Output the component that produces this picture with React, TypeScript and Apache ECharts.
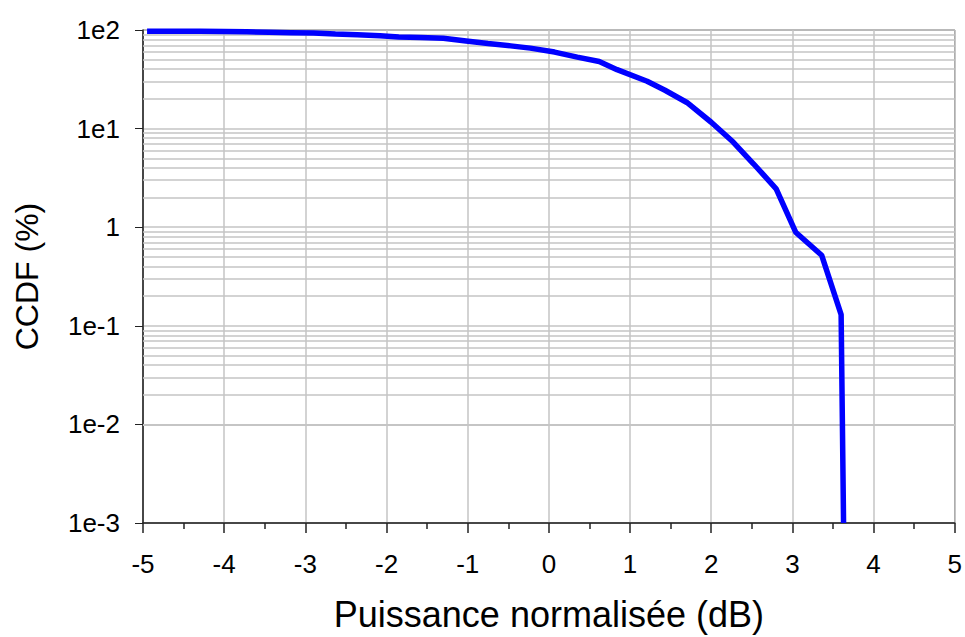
import React, { useEffect, useRef } from "react";
import * as echarts from "echarts";

const powerDb = [
  -4.95, -4.6, -4.3, -4.0, -3.72, -3.45, -3.18, -2.9, -2.63, -2.36, -2.08, -1.85,
  -1.58, -1.3, -1.02, -0.75, -0.47, -0.23, 0.07, 0.35, 0.62, 0.84, 1.21, 1.43,
  1.7, 2.0, 2.27, 2.52, 2.8, 3.04, 3.36, 3.6, 3.63,
];
const ccdfPct = [
  97, 97, 97, 96.5, 96, 95, 94, 93, 91, 89.5, 87.5, 85,
  84, 82.5, 77.5, 73, 69, 65.5, 59.7, 53.1, 48, 39.6, 30.2, 24.5,
  18.4, 11.6, 7.3, 4.4, 2.45, 0.89, 0.52, 0.13, 0.001,
];
const yTickLabels: Record<string, string> = {
  "100": "1e2",
  "10": "1e1",
  "1": "1",
  "0.1": "1e-1",
  "0.01": "1e-2",
  "0.001": "1e-3",
};
const decades = [0.001, 0.01, 0.1, 1, 10];
const minorMultipliers = [2, 3, 4, 5, 6, 7, 8, 9];

export default function App() {
  const ref = useRef<HTMLDivElement>(null);
  useEffect(() => {
    if (!ref.current) return;
    const chart = echarts.init(ref.current, null, { renderer: "svg" });
    const minorLines: any[] = [];
    decades.forEach((d) =>
      minorMultipliers.forEach((m) => minorLines.push({ yAxis: +(d * m).toPrecision(3) }))
    );
    const font = "'Liberation Sans', Arial, sans-serif";
    chart.setOption({
      animation: false,
      backgroundColor: "#ffffff",
      grid: {
        left: 143,
        top: 30,
        width: 817,
        height: 497,
        show: true,
        borderColor: "#333333",
        borderWidth: 1,
        backgroundColor: "transparent",
      },
      xAxis: {
        type: "value",
        min: -5,
        max: 5,
        interval: 1,
        name: "Puissance normalisée (dB)",
        nameLocation: "middle",
        nameGap: 73,
        nameTextStyle: { fontSize: 36, color: "#000", fontFamily: font },
        axisLine: { show: true, onZero: false, lineStyle: { color: "#222", width: 1.5 } },
        axisTick: { show: true, inside: false, length: 10, lineStyle: { color: "#222", width: 1.5 } },
        minorTick: { show: true, splitNumber: 2, length: 6, lineStyle: { color: "#222", width: 1.5 } },
        axisLabel: { fontSize: 26, color: "#000", margin: 28, fontFamily: font },
        splitLine: { show: true, lineStyle: { color: "#c4c4c4", width: 1.5 } },
      },
      yAxis: {
        type: "log",
        logBase: 10,
        min: 0.001,
        max: 100,
        name: "CCDF (%)",
        nameLocation: "middle",
        nameGap: 100,
        nameTextStyle: { fontSize: 32, color: "#000", fontFamily: font },
        axisLine: { show: true, onZero: false, lineStyle: { color: "#222", width: 1.5 } },
        axisTick: { show: true, inside: false, length: 8, lineStyle: { color: "#222", width: 1 } },
        axisLabel: {
          fontSize: 26,
          color: "#000",
          margin: 23,
          fontFamily: font,
          formatter: (v: number) => yTickLabels[String(+v.toPrecision(3))] ?? String(v),
        },
        splitLine: { show: true, lineStyle: { color: "#c4c4c4", width: 1.5 } },
      },
      series: [
        {
          type: "line",
          data: powerDb.map((x, i) => [x, ccdfPct[i]]),
          showSymbol: false,
          symbol: "none",
          lineStyle: { color: "#0000ff", width: 5.5 },
          z: 5,
          markLine: {
            silent: true,
            symbol: ["none", "none"],
            label: { show: false },
            lineStyle: { color: "#c4c4c4", width: 1.5, type: "solid" },
            data: minorLines,
            z: 1,
          },
        },
      ],
    });
    return () => chart.dispose();
  }, []);
  return (
    <div
      ref={ref}
      style={{ position: "fixed", left: 0, top: 0, width: 965, height: 637 }}
    />
  );
}
